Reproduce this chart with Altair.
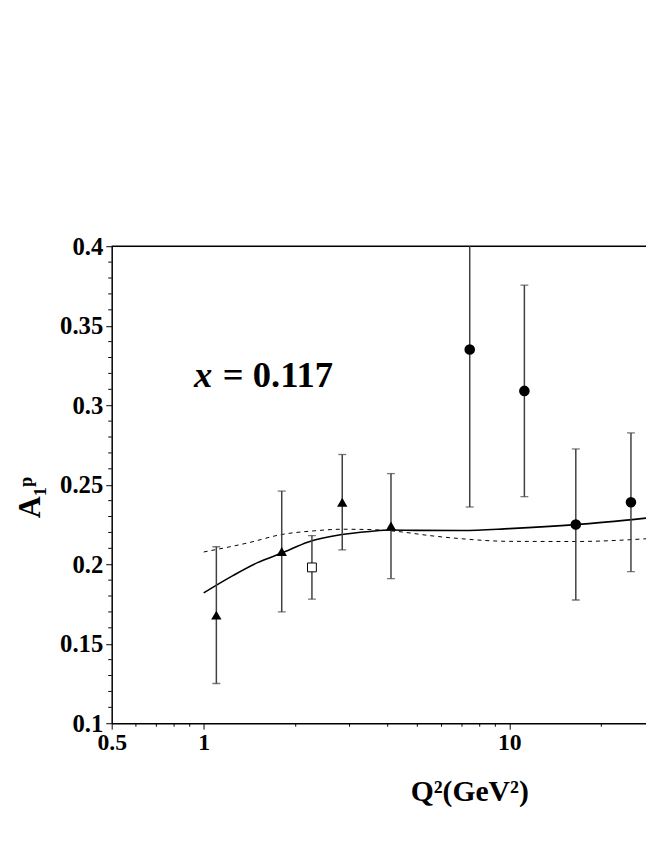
import altair as alt
import pandas as pd

# ---- data ----
tri_q2 = [1.1, 1.8, 2.84, 4.1]
tri_a = [0.168, 0.208, 0.239, 0.224]
tri_err = [0.043, 0.038, 0.030, 0.033]

sq_q2 = [2.26]
sq_a = [0.198]
sq_err = [0.020]

circ_q2 = [7.42, 11.2, 16.5, 25.0]
circ_a = [0.335, 0.309, 0.225, 0.239]
circ_err = [0.099, 0.0665, 0.0475, 0.0436]

solid_q2 = [1.0, 1.25, 1.5, 1.8, 2.2, 2.8, 3.5, 4.1, 5.0, 7.0, 10.0, 16.5, 28.0]
solid_a = [0.182, 0.193, 0.201, 0.207, 0.214, 0.2185, 0.2206, 0.2215, 0.2213, 0.2212, 0.2224, 0.2249, 0.229]

dash_q2 = [1.0, 1.4, 1.8, 2.3, 2.84, 3.5, 4.1, 5.67, 7.0, 10.0, 16.5, 28.0]
dash_a = [0.2077, 0.2135, 0.2187, 0.2210, 0.2220, 0.2218, 0.2210, 0.2177, 0.2160, 0.2144, 0.2143, 0.216]

x_major = [0.5, 1, 10]
x_minor = [0.6, 0.7, 0.8, 0.9, 2, 3, 4, 5, 6, 7, 8, 9, 20]
y_major = [0.1, 0.15, 0.2, 0.25, 0.3, 0.35, 0.4]
y_minor = [0.11, 0.12, 0.13, 0.14, 0.16, 0.17, 0.18, 0.19, 0.21, 0.22, 0.23, 0.24,
           0.26, 0.27, 0.28, 0.29, 0.31, 0.32, 0.33, 0.34, 0.36, 0.37, 0.38, 0.39]

FONT = "Liberation Serif"
BAR = "#404040"
W, H = 541, 483

def pts(q, a, e):
    return pd.DataFrame({"q2": q, "a": a, "lo": [v - d for v, d in zip(a, e)],
                         "hi": [v + d for v, d in zip(a, e)]})

tri = pts(tri_q2, tri_a, tri_err)
sq = pts(sq_q2, sq_a, sq_err)
circ = pts(circ_q2, circ_a, circ_err)
allpts = pd.concat([tri, sq, circ])

solid = pd.DataFrame({"q2": solid_q2, "a": solid_a})
dash = pd.DataFrame({"q2": dash_q2, "a": dash_a})
one = pd.DataFrame({"k": [0]})
xminor_df = pd.DataFrame({"q2": x_minor})
yminor_df = pd.DataFrame({"a": y_minor})

xscale = alt.Scale(type="log", domain=[0.5, 28], nice=False)
yscale = alt.Scale(domain=[0.1, 0.4], nice=False)

xaxis = alt.Axis(
    values=x_major, grid=False, domainColor="black", domainWidth=1.5,
    tickColor="black", tickWidth=1, tickSize=6,
    labelExpr="format(datum.value, '~g')",
    labelFont=FONT, labelFontWeight="bold", labelFontSize=24, labelColor="black",
    labelPadding=2, labelFlush=False, labelOverlap=False,
    title="Q²(GeV²)", titleFont=FONT, titleFontWeight="bold", titleFontSize=30,
    titleColor="black", titleX=362, titleY=78, titleAlign="center",
    titleBaseline="alphabetic",
)
yaxis = alt.Axis(
    values=y_major, grid=False, domainColor="black", domainWidth=1.5,
    tickColor="black", tickWidth=1, tickSize=6,
    labelExpr="format(datum.value, '.2~f')",
    labelFont=FONT, labelFontWeight="bold", labelFontSize=25, labelColor="black",
    labelPadding=3, labelFlush=False, labelOverlap=False,
    title="A₁ᵖ", titleFont=FONT, titleFontWeight="bold", titleFontSize=31,
    titleColor="black", titleX=-73, titleY=254, titleAlign="center", titleAngle=270,
    titleBaseline="alphabetic",
)

def X(field="q2"):
    return alt.X(f"{field}:Q", scale=xscale, axis=xaxis)

def Y(field="a"):
    return alt.Y(f"{field}:Q", scale=yscale, axis=yaxis)

base = alt.Chart(allpts)

bars = base.mark_rule(color=BAR, strokeWidth=1.5, clip=True).encode(x=X(), y=Y("lo"), y2="hi:Q")
caps_lo = base.mark_tick(color=BAR, orient="horizontal", size=8, thickness=1.3, clip=True).encode(
    x=X(), y=Y("lo"))
caps_hi = base.mark_tick(color=BAR, orient="horizontal", size=8, thickness=1.3, clip=True).encode(
    x=X(), y=Y("hi"))

solid_line = alt.Chart(solid).mark_line(color="black", strokeWidth=1.6, interpolate="monotone").encode(
    x=X(), y=Y())
dash_line = alt.Chart(dash).mark_line(color="black", strokeWidth=1, strokeDash=[4, 4],
                                      interpolate="monotone").encode(x=X(), y=Y())

tri_mark = alt.Chart(tri).mark_point(shape="triangle-up", filled=True, color="black", size=110,
                                     opacity=1).encode(x=X(), y=Y())
sq_mark = alt.Chart(sq).mark_point(shape="square", filled=True, fill="white", stroke="black",
                                   strokeWidth=1, size=80, opacity=1).encode(x=X(), y=Y())
circ_mark = alt.Chart(circ).mark_point(shape="circle", filled=True, color="black", size=115,
                                       opacity=1).encode(x=X(), y=Y())

# minor ticks
xminor = alt.Chart(xminor_df).mark_rule(color="black", strokeWidth=1).encode(
    x=X(), y=alt.value(H), y2=alt.value(H + 3.5))
yminor = alt.Chart(yminor_df).mark_rule(color="black", strokeWidth=1).encode(
    y=Y(), x=alt.value(0), x2=alt.value(-3.5))

top_line = alt.Chart(one).mark_rule(color="black", strokeWidth=1.5).encode(
    y=alt.value(0), x=alt.value(0), x2=alt.value(W))

label_x = alt.Chart(one).mark_text(text="x", font=FONT, fontWeight="bold", fontStyle="italic",
                                   fontSize=37, align="left", baseline="alphabetic", color="black").encode(
    x=alt.XDatum(0.93, scale=xscale, axis=xaxis), y=alt.YDatum(0.3113, scale=yscale, axis=yaxis))
label_v = alt.Chart(one).mark_text(text="= 0.117", font=FONT, fontWeight="bold",
                                   fontSize=37, align="left", baseline="alphabetic", color="black").encode(
    x=alt.XDatum(1.155, scale=xscale, axis=xaxis), y=alt.YDatum(0.3113, scale=yscale, axis=yaxis))

chart = alt.layer(
    top_line, xminor, yminor, dash_line, solid_line, bars, caps_lo, caps_hi,
    tri_mark, sq_mark, circ_mark, label_x, label_v
).properties(
    width=W, height=H,
    autosize=alt.AutoSizeParams(type="none"),
    padding={"left": 105, "top": 236, "right": 0, "bottom": 111},
).configure_view(stroke=None).configure(background="white")

chart.save("out.html", embed_options={"renderer": "svg", "actions": False})
